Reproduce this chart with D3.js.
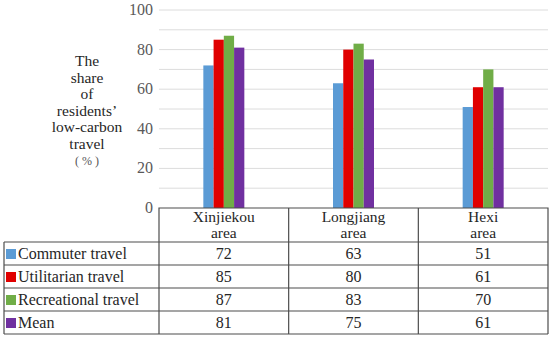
<!DOCTYPE html>
<html>
<head>
<meta charset="utf-8">
<script src="https://cdn.jsdelivr.net/npm/d3@7"></script>
</head>
<body style="margin:0">
<svg id="chart" width="550" height="341"></svg>
<script>
const areas = ["Xinjiekou area", "Longjiang area", "Hexi area"];
const areaLines = [["Xinjiekou", "area"], ["Longjiang", "area"], ["Hexi", "area"]];
const seriesNames = ["Commuter travel", "Utilitarian travel", "Recreational travel", "Mean"];
const commuter = [72, 63, 51];
const utilitarian = [85, 80, 61];
const recreational = [87, 83, 70];
const mean = [81, 75, 61];
const colors = ["#5b9bd5", "#e00000", "#70ad47", "#7030a0"];
const yTicks = [0, 20, 40, 60, 80, 100];
const titleLines = ["The", "share", "of", "residents\u2019", "low-carbon", "travel"];

const series = [commuter, utilitarian, recreational, mean];
const fam = '"Tinos", "Times New Roman", "Liberation Serif", "DejaVu Serif", serif';

const svg = d3.select("#chart");
const plotLeft = 159, plotRight = 548, plotTop = 10, plotBottom = 208;
const headerH = 34, rowH = 23;

const x = d3.scaleBand().domain(areas).range([plotLeft, plotRight]);
const xInner = d3.scaleBand().domain(d3.range(4)).range([0, 41]);
const y = d3.scaleLinear().domain([0, 100]).range([plotBottom, plotTop]);

function label(sel, size, fill) {
  return sel.attr("font-family", fam)
    .style("font-family", fam)
    .attr("font-size", size).attr("fill", fill);
}

// gridlines every 10
svg.append("g").selectAll("line")
  .data(d3.range(10, 101, 10))
  .join("line")
  .attr("x1", plotLeft).attr("x2", plotRight)
  .attr("y1", d => y(d)).attr("y2", d => y(d))
  .attr("stroke", "#dcdcdc").attr("stroke-width", 1);

// y axis labels
label(svg.append("g").selectAll("text")
  .data(yTicks)
  .join("text"), 16, "#595959")
  .attr("x", 153)
  .attr("y", d => y(d) + 5)
  .attr("text-anchor", "end")
  .text(d => d);

// y title
titleLines.forEach((t, i) => {
  label(svg.append("text"), 15.5, "#262626")
    .attr("x", 87).attr("y", 66 + i * 16.5)
    .attr("text-anchor", "middle")
    .text(t);
});
label(svg.append("text"), 12, "#555")
  .attr("x", 87).attr("y", 165)
  .attr("text-anchor", "middle")
  .text("( % )");

// bars
series.forEach((vals, si) => {
  svg.append("g").selectAll("rect")
    .data(vals)
    .join("rect")
    .attr("x", (d, i) => x(areas[i]) + x.bandwidth() / 2 - 20.5 + xInner(si))
    .attr("y", d => y(d))
    .attr("width", xInner.bandwidth())
    .attr("height", d => y(0) - y(d))
    .attr("fill", colors[si]);
});

// data table
const tbl = svg.append("g").attr("stroke", "#4d4d4d").attr("stroke-width", 1.2).attr("fill", "none");
const tableBottom = plotBottom + headerH + rowH * 4;
tbl.append("path").attr("d",
  `M${plotLeft},${tableBottom}V${plotBottom}H${plotRight}V${tableBottom}`);
areas.slice(1).forEach(a => {
  tbl.append("line").attr("x1", x(a)).attr("x2", x(a)).attr("y1", plotBottom).attr("y2", tableBottom);
});
d3.range(5).forEach(r => {
  tbl.append("line").attr("x1", 4).attr("x2", plotRight)
    .attr("y1", plotBottom + headerH + r * rowH).attr("y2", plotBottom + headerH + r * rowH);
});
tbl.append("line").attr("x1", 4).attr("x2", 4).attr("y1", plotBottom + headerH).attr("y2", tableBottom);

// header text
areaLines.forEach((lines, i) => {
  lines.forEach((t, j) => {
    label(svg.append("text"), 15.5, "#262626")
      .attr("x", x(areas[i]) + x.bandwidth() / 2)
      .attr("y", plotBottom + 14 + j * 16)
      .attr("text-anchor", "middle")
      .text(t);
  });
});

// rows
series.forEach((vals, si) => {
  const ry = plotBottom + headerH + si * rowH;
  svg.append("rect")
    .attr("x", 6).attr("y", ry + 7)
    .attr("width", 10).attr("height", 10)
    .attr("fill", colors[si]);
  label(svg.append("text"), 16, "#262626")
    .attr("x", 18).attr("y", ry + 17)
    .text(seriesNames[si]);
  label(svg.append("g").selectAll("text")
    .data(vals)
    .join("text"), 16, "#262626")
    .attr("x", (d, i) => x(areas[i]) + x.bandwidth() / 2)
    .attr("y", ry + 17)
    .attr("text-anchor", "middle")
    .text(d => d);
});
</script>
</body>
</html>
